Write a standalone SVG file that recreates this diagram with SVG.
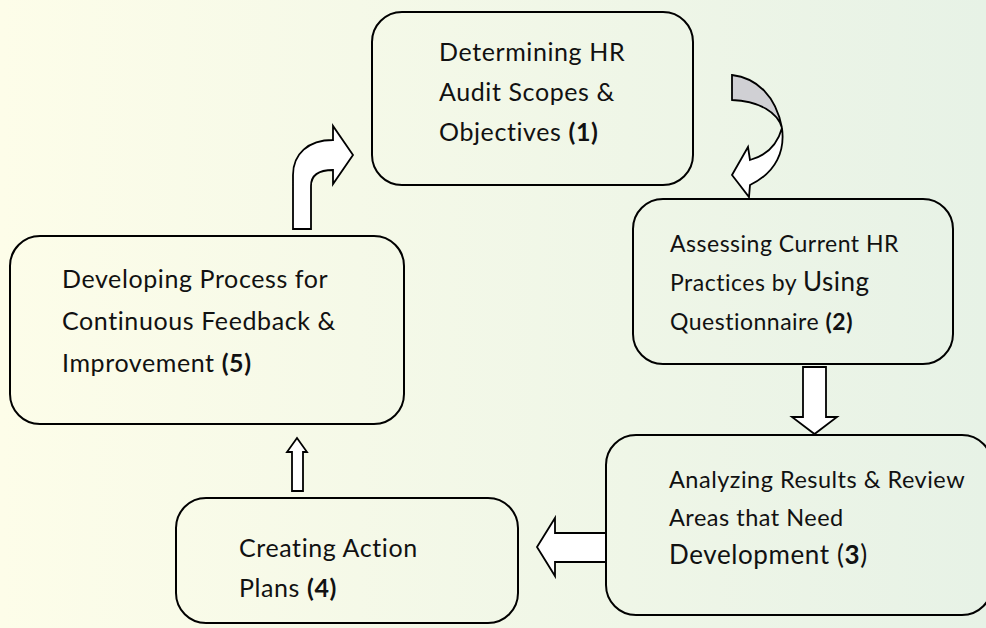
<svg xmlns="http://www.w3.org/2000/svg" width="986" height="628" viewBox="0 0 986 628">
  <defs>
    <linearGradient id="bg" x1="0" y1="0" x2="1" y2="0">
      <stop offset="0" stop-color="#fdfde9"/>
      <stop offset="1" stop-color="#e7f2e6"/>
    </linearGradient>
    <style>
      .box { fill: none; stroke: #000; stroke-width: 2; }
      .arrow { fill: #fff; stroke: #000; stroke-width: 1.8; stroke-linejoin: miter; }
      .back { fill: #d0d0d4; stroke: #000; stroke-width: 1.8; }
      .lbl { font-family: Lato, "Liberation Sans", sans-serif; font-size: 25px; letter-spacing: 0.6px; fill: #111; }
      .s2 { font-size: 23px; letter-spacing: 0.5px; }
      .s3 { font-size: 23.5px; letter-spacing: 0.5px; }
      .big { font-size: 26px; }
      .b { font-weight: bold; }
    </style>
  </defs>

  <rect x="0" y="0" width="986" height="628" fill="url(#bg)"/>

  <!-- connectors -->
  <g id="connectors">
    <!-- curved arrow from step 1 to step 2 (back band shaded) -->
    <path class="back" d="M732,75 C757,78 776,96 782,128 C778,113 760,101 732,100 Z"/>
    <path class="arrow" d="M782,128 C785,150 777,172 750,185 L749,197 L732,175 L748,147 L750,160 C765,156 777,146 782,128 Z"/>
    <!-- step 2 down to step 3 -->
    <path class="arrow" d="M803,367 L826,367 L826,417 L837,417 L814.5,434 L792,417 L803,417 Z"/>
    <!-- step 3 left to step 4 -->
    <path class="arrow" d="M606,533 L555,533 L555,518 L537,547 L555,576 L555,562 L606,562 Z"/>
    <!-- step 4 up to step 5 -->
    <path class="arrow" d="M292,491 L292,452 L287,452 L297,438 L307,452 L303,452 L303,491 Z"/>
    <!-- step 5 bent up and right to step 1 -->
    <path class="arrow" d="M293,229 L293,175 C293,154 308,140 333,140 L333,126 L353,155 L333,184 L333,170 C318,170 311,176 311,186 L311,229 Z"/>
  </g>

  <g id="step1">
    <rect class="box" x="372" y="12" width="321" height="173" rx="30"/>
    <text class="lbl" x="439" y="61">Determining HR</text>
    <text class="lbl" x="439" y="101">Audit Scopes &amp;</text>
    <text class="lbl" x="439" y="141">Objectives <tspan class="b">(1)</tspan></text>
  </g>

  <g id="step2">
    <rect class="box" x="633" y="199" width="320" height="165" rx="30"/>
    <text class="lbl s2" x="670" y="252">Assessing Current HR</text>
    <text class="lbl s2" x="670" y="291">Practices by <tspan class="big">Using</tspan></text>
    <text class="lbl s2" x="670" y="330">Questionnaire <tspan class="b">(2)</tspan></text>
  </g>

  <g id="step3">
    <rect class="box" x="606" y="435" width="386" height="180" rx="30"/>
    <text class="lbl s3" x="669" y="488">Analyzing Results &amp; Review</text>
    <text class="lbl s3" x="669" y="526">Areas that Need</text>
    <text class="lbl big" x="669" y="564">Development (<tspan class="b">3</tspan>)</text>
  </g>

  <g id="step4">
    <rect class="box" x="176" y="498" width="342" height="125" rx="30"/>
    <text class="lbl" x="239" y="557">Creating Action</text>
    <text class="lbl" x="239" y="597">Plans <tspan class="b">(4)</tspan></text>
  </g>

  <g id="step5">
    <rect class="box" x="10" y="236" width="394" height="188" rx="30"/>
    <text class="lbl" x="62" y="288">Developing Process for</text>
    <text class="lbl" x="62" y="330">Continuous Feedback &amp;</text>
    <text class="lbl" x="62" y="372">Improvement <tspan class="b">(5)</tspan></text>
  </g>
</svg>
